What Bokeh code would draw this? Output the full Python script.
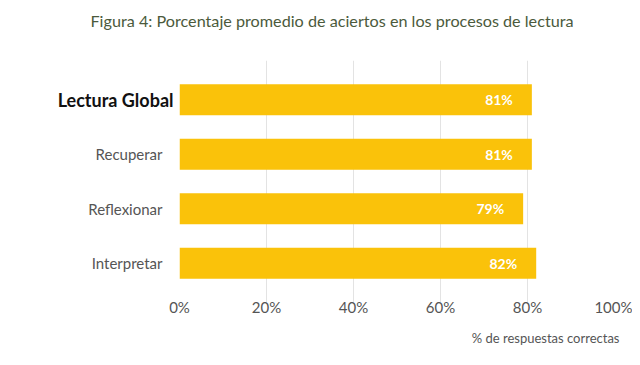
from bokeh.plotting import figure
from bokeh.models import (ColumnDataSource, LabelSet, Title, FactorRange,
                          CustomJSTickFormatter, CategoricalAxis)
from bokeh.core.properties import value
from bokeh.embed import file_html
from bokeh.resources import INLINE

categories = ["Interpretar", "Reflexionar", "Recuperar", "Lectura Global"]
values = [82, 79, 81, 81]
value_labels = ["82%", "79%", "81%", "81%"]
x_ticks = [0, 20, 40, 60, 80, 100]
x_tick_labels = ["0%", "20%", "40%", "60%", "80%", "100%"]
bold_category = ["Lectura Global"]

FONT = "Lato"
GRAY = "#555555"

src = ColumnDataSource(dict(cat=categories, val=values, lab=value_labels))

p = figure(width=632, height=354, output_backend="svg", toolbar_location=None,
           y_range=FactorRange(factors=categories, range_padding=0.22,
                               range_padding_units="absolute"),
           x_range=(0, 100), title=None,
           min_border_left=179, min_border_right=18, min_border_bottom=10,
           min_border_top=60)

p.hbar(y="cat", right="val", left=0, height=0.57, source=src,
       fill_color="#FAC20A", line_color=None)

p.add_layout(LabelSet(x="val", y="cat", text="lab", source=src, x_offset=-19,
                      text_align="right", text_baseline="middle",
                      text_color="white", text_font=value(FONT),
                      text_font_style="bold", text_font_size="14px"))

p.add_layout(Title(text="% de respuestas correctas", align="right",
                   text_font=FONT, text_font_size="13px", text_color=GRAY,
                   text_font_style="normal", offset=-5, standoff=18), "below")

# spacer between frame and title
p.add_layout(Title(text=" ", text_font_size="1px", standoff=28), "above")
p.add_layout(Title(text="Figura 4: Porcentaje promedio de aciertos en los procesos de lectura",
                   align="left", text_font=FONT,
                   text_font_size="16.2px", text_color="#4B5A3C",
                   text_font_style="normal", offset=-89, standoff=0), "above")

p.xaxis.ticker = x_ticks
p.xaxis.major_label_overrides = {t: l for t, l in zip(x_ticks, x_tick_labels)}
p.yaxis.formatter = CustomJSTickFormatter(
    args=dict(hide=bold_category),
    code="return hide.includes(tick) ? '' : tick;")

bold_axis = CategoricalAxis(formatter=CustomJSTickFormatter(
    args=dict(show=bold_category),
    code="return show.includes(tick) ? tick : '';"))
p.add_layout(bold_axis, "left")

for ax in (p.xaxis[0], p.yaxis[0], bold_axis):
    ax.axis_line_color = None
    ax.major_tick_line_color = None
    ax.minor_tick_line_color = None
    ax.major_tick_out = 0
    ax.major_tick_in = 0
    ax.minor_tick_out = 0
    ax.major_label_text_font = FONT
    ax.major_label_text_font_size = "15px"
    ax.major_label_text_color = GRAY
p.xaxis.major_label_standoff = -5
p.yaxis[0].major_label_standoff = 17

bold_axis.major_label_text_font_style = "bold"
bold_axis.major_label_text_font_size = "18px"
bold_axis.major_label_text_color = "#111111"
bold_axis.major_label_standoff = -88

p.ygrid.grid_line_color = None
p.xgrid.grid_line_color = "#E3E3E3"
p.xgrid.grid_line_width = 1
p.outline_line_color = None
p.background_fill_color = "white"
p.border_fill_color = "white"

open("out.html", "w").write(file_html(p, INLINE))
